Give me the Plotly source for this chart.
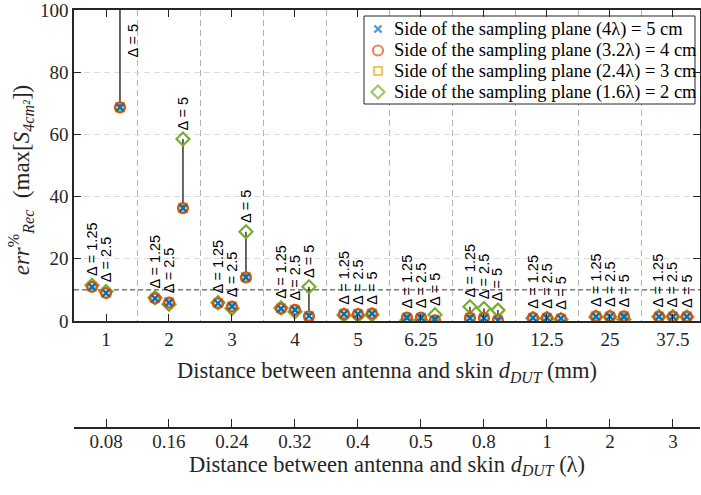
import plotly.graph_objects as go

# ---------------- data ----------------
mm_labels = ["1", "2", "3", "4", "5", "6.25", "10", "12.5", "25", "37.5"]
lambda_labels = ["0.08", "0.16", "0.24", "0.32", "0.4", "0.5", "0.8", "1", "2", "3"]
deltas = ["1.25", "2.5", "5"]

# values ordered: for each distance, Δ = 1.25, 2.5, 5
side_5cm = [11.0, 9.0, 68.7,  7.3, 5.9, 36.3,  5.7, 4.7, 14.0,  4.0, 3.6, 1.6,  2.2, 2.2, 2.4,
            1.1, 1.1, 0.5,  0.9, 0.9, 0.2,  1.0, 1.0, 0.8,  1.4, 1.4, 1.4,  1.4, 1.4, 1.4]
side_4cm = [11.0, 9.0, 68.7,  7.3, 5.9, 36.3,  5.7, 4.6, 14.0,  4.0, 3.6, 1.5,  2.2, 2.2, 2.4,
            1.1, 1.1, 0.2,  1.0, 1.0, 0.2,  1.0, 1.0, 0.7,  1.5, 1.5, 1.5,  1.4, 1.4, 1.4]
side_3cm = [11.1, 9.1, 68.8,  7.4, 6.0, 36.4,  5.8, 4.6, 14.1,  4.1, 3.6, 1.6,  2.3, 2.2, 2.4,
            1.0, 1.0, 0.4,  1.0, 1.0, 0.3,  1.0, 1.0, 0.8,  1.5, 1.4, 1.5,  1.4, 1.4, 1.4]
side_2cm = [11.5, 9.5, 120.0,  7.5, 5.4, 58.5,  5.9, 4.0, 28.7,  4.2, 3.0, 11.0,  1.9, 1.8, 2.0,
            0.2, 0.2, 2.0,  4.6, 4.0, 3.5,  0.9, 0.9, 0.5,  1.3, 1.3, 0.5,  1.4, 1.4, 1.3]

series_names = [
    "Side of the sampling plane (4λ) = 5 cm",
    "Side of the sampling plane (3.2λ) = 4 cm",
    "Side of the sampling plane (2.4λ) = 3 cm",
    "Side of the sampling plane (1.6λ) = 2 cm",
]
series_vals = [side_5cm, side_4cm, side_3cm, side_2cm]

# ---------------- styling ----------------
colors = ["#0072BD", "#D95319", "#EDB120", "#77AC30"]
symbols = ["x-thin", "circle-open", "square-open", "diamond-open"]
sizes = [7, 10, 8, 10]
line_w = [2.4, 2.2, 2.2, 2.2]
serif = "Liberation Serif"
sans = "Liberation Sans"
offsets = [-0.222, 0.0, 0.222]
Y_MAX = 100

# legend layout (pixel units on a hidden overlay axis pair)
PLOT_L, PLOT_R, PLOT_T, PLOT_B = 74, 700, 10, 321
LEG_BOX = (364, 695, 16, 104)
LEG_ROWS = [29, 50.5, 71, 92]
LEG_MARK_X, LEG_TEXT_X = 378, 392

n_cat = len(mm_labels)
xpos = [c + offsets[d] for c in range(n_cat) for d in range(len(deltas))]

fig = go.Figure()

# range bars (min to max over the four planes)
lx, ly = [], []
for i, x in enumerate(xpos):
    vals = [s[i] for s in series_vals]
    lx += [x, x, None]
    ly += [min(vals), max(vals), None]
fig.add_trace(go.Scatter(x=lx, y=ly, mode="lines", line=dict(color="black", width=1.2),
                         showlegend=False, hoverinfo="skip"))

# markers, drawn green first, blue last (on top)
for k in [3, 2, 1, 0]:
    fig.add_trace(go.Scatter(
        x=xpos, y=series_vals[k], mode="markers", name=series_names[k], showlegend=False,
        marker=dict(symbol=symbols[k], size=sizes[k], color=colors[k],
                    line=dict(color=colors[k], width=line_w[k])),
    ))

# dummy trace to hold the secondary (λ) axis
fig.add_trace(go.Scatter(x=list(range(n_cat)), y=[None] * n_cat, xaxis="x2", yaxis="y",
                         mode="markers", showlegend=False, hoverinfo="skip"))

# custom legend (box + keys) on a hidden pixel-scaled overlay
bx0, bx1, by0, by1 = LEG_BOX
fig.add_trace(go.Scatter(x=[bx0, bx1, bx1, bx0, bx0], y=[by0, by0, by1, by1, by0],
                         xaxis="x3", yaxis="y3", mode="lines", fill="toself",
                         fillcolor="white", line=dict(color="#262626", width=1),
                         showlegend=False, hoverinfo="skip"))
fig.add_trace(go.Scatter(x=[LEG_MARK_X] * 4, y=LEG_ROWS, xaxis="x3", yaxis="y3", mode="markers",
                         marker=dict(symbol=symbols, size=sizes, color=colors,
                                     line=dict(color=colors, width=line_w)),
                         showlegend=False, hoverinfo="skip"))

ann = []
for k, name in enumerate(series_names):
    ann.append(dict(x=LEG_TEXT_X, y=LEG_ROWS[k], xref="x3", yref="y3", text=name,
                    showarrow=False, xanchor="left", yanchor="middle",
                    font=dict(family=serif, size=18.5, color="black")))

# Δ labels (label of an off-scale group is parked near the top, right of its bar)
for i, x in enumerate(xpos):
    top = max(s[i] for s in series_vals)
    off_scale = top > Y_MAX
    yl = 84 if off_scale else top + 2.3
    xl = x + 0.21 if off_scale else x
    ann.append(dict(x=xl, y=yl, xref="x", yref="y", text="Δ = " + deltas[i % 3],
                    textangle=-90, showarrow=False, xanchor="center", yanchor="bottom",
                    font=dict(family=sans, size=14.5, color="black")))

# y-axis title as a rotated annotation (slightly below the axis centre, as in the reference)
ann.append(dict(x=-0.086, y=0.593, xref="paper", yref="paper", showarrow=False,
                text="<i>err</i><sup>%</sup><sub><i>Rec</i></sub>  (max[<i>S</i><sub><i>4cm²</i></sub>])",
                textangle=-90, xanchor="center", yanchor="middle",
                font=dict(family=serif, size=23, color="#262626")))

shapes = [dict(type="line", xref="paper", yref="y", x0=0, x1=1, y0=10, y1=10,
               line=dict(color="#333333", width=1, dash="5px,3px"), layer="below")]

axis_col = "#262626"
fig.update_layout(
    width=701, height=495,
    margin=dict(l=74, r=1, t=10, b=67),
    plot_bgcolor="white", paper_bgcolor="white",
    font=dict(family=serif, size=18, color="#262626"),
    showlegend=False,
    xaxis=dict(
        range=[-0.508, 9.43], tickmode="array", tickvals=list(range(n_cat)), ticktext=mm_labels,
        ticks="inside", ticklen=7, tickcolor=axis_col, showline=True, linecolor=axis_col, linewidth=1.5,
        mirror="ticks", showgrid=False, zeroline=False, anchor="y", ticklabeloverflow="allow",
        minor=dict(tickmode="array", tickvals=[c + 0.5 for c in range(n_cat - 1)], showgrid=True,
                   gridcolor="#b4b4b4", griddash="6px,4px", gridwidth=1, ticks=""),
        title=dict(text="Distance between antenna and skin <i>d</i><sub><i>DUT</i></sub> (mm)",
                   standoff=14, font=dict(size=22.5)),
        tickfont=dict(size=19), automargin=False,
    ),
    xaxis2=dict(
        range=[-0.508, 9.43], tickmode="array", tickvals=list(range(n_cat)), ticktext=lambda_labels,
        overlaying="x", anchor="free", position=0, side="bottom", ticklabeloverflow="allow",
        ticks="inside", ticklen=8, tickcolor=axis_col, showline=True, linecolor=axis_col, linewidth=1.5,
        showgrid=False, zeroline=False, ticklabelstandoff=-4,
        title=dict(text="Distance between antenna and skin <i>d</i><sub><i>DUT</i></sub> (λ)",
                   standoff=0, font=dict(size=22.5)),
        tickfont=dict(size=19), automargin=False,
    ),
    xaxis3=dict(range=[PLOT_L, PLOT_R], overlaying="x", visible=False, anchor="y3"),
    yaxis3=dict(range=[PLOT_B, PLOT_T], overlaying="y", visible=False, anchor="x3"),
    yaxis=dict(
        range=[0, Y_MAX], domain=[0.256, 1], tickvals=[0, 20, 40, 60, 80, 100],
        ticks="inside", ticklen=7, tickcolor=axis_col, showline=True, linecolor=axis_col, linewidth=1.5,
        mirror="ticks", showgrid=True, gridcolor="#dcdcdc", griddash="6px,4px", zeroline=False,
        ticklabeloverflow="allow",
        tickfont=dict(size=19), automargin=False,
    ),
    annotations=ann,
    shapes=shapes,
)

fig.write_html("out.html", config={"displayModeBar": False},
               post_script="document.body.style.margin='0';")
